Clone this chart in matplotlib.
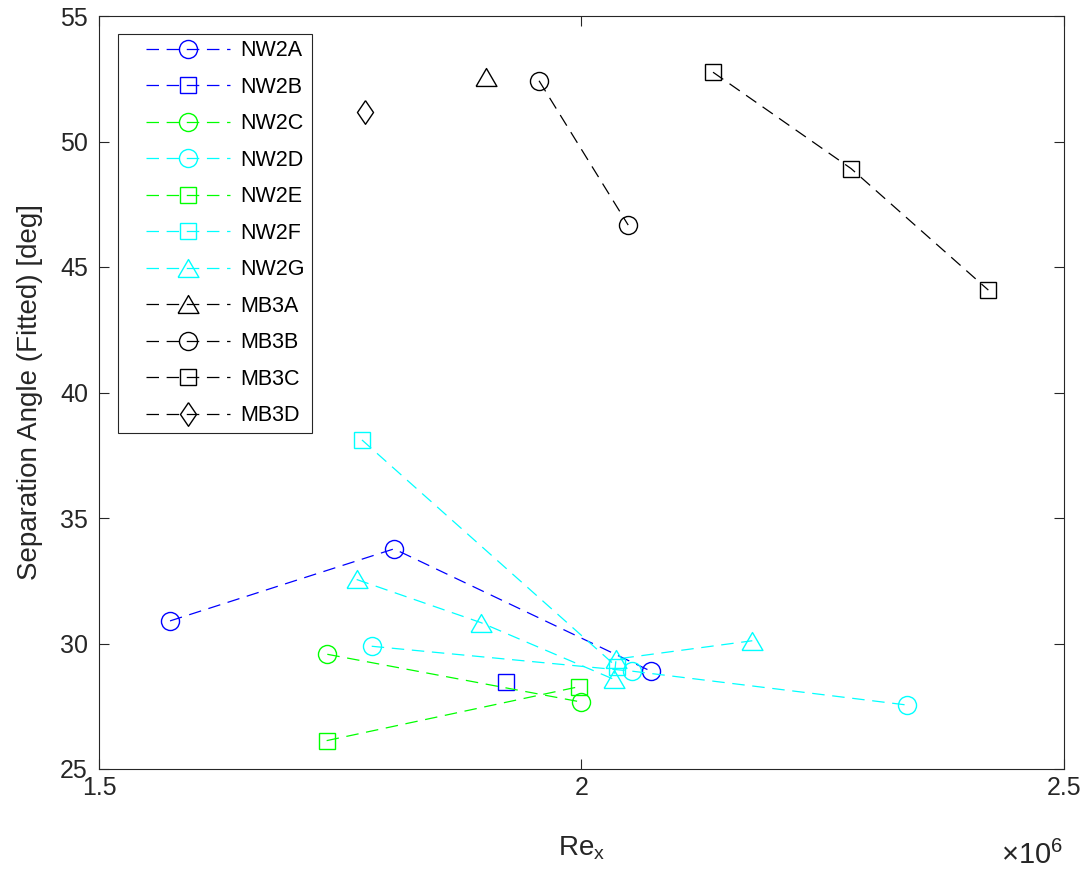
import matplotlib
matplotlib.use("Agg")
import matplotlib.pyplot as plt
from matplotlib.ticker import FixedLocator
from matplotlib.lines import Line2D
from matplotlib.legend_handler import HandlerLine2D

plt.rcParams['font.family'] = ['Liberation Sans', 'DejaVu Sans']
plt.rcParams['lines.scale_dashes'] = False

# ---- data (Re_x, separation angle in deg) ----
names = ["NW2A", "NW2B", "NW2C", "NW2D", "NW2E", "NW2F", "NW2G",
         "MB3A", "MB3B", "MB3C", "MB3D"]
NW2A_re = [1.5736e6, 1.8057e6, 2.0717e6]
NW2A_ang = [30.90, 33.77, 28.90]
NW2B_re = [1.9214e6]
NW2B_ang = [28.45]
NW2C_re = [1.7366e6, 1.9995e6]
NW2C_ang = [29.57, 27.67]
NW2D_re = [1.7826e6, 2.0520e6, 2.3370e6]
NW2D_ang = [29.89, 28.90, 27.55]
NW2E_re = [1.7359e6, 1.9974e6]
NW2E_ang = [26.13, 28.28]
NW2F_re = [1.7725e6, 2.0368e6]
NW2F_ang = [38.11, 29.06]
NW2G_re = [1.7670e6, 1.8959e6, 2.0337e6, 2.0358e6, 2.1770e6]
NW2G_ang = [32.55, 30.83, 28.57, 29.38, 30.11]
MB3A_re = [1.9007e6]
MB3A_ang = [52.55]
MB3B_re = [1.9560e6, 2.0484e6]
MB3B_ang = [52.42, 46.67]
MB3C_re = [2.1363e6, 2.2794e6, 2.4216e6]
MB3C_ang = [52.76, 48.92, 44.08]
MB3D_re = [1.7760e6]
MB3D_ang = [51.16]

xticks = [1.5e6, 2.0e6, 2.5e6]
xticklabels = ["1.5", "2", "2.5"]
yticks = [25, 30, 35, 40, 45, 50, 55]

BLUE = "#0000ff"
GREEN = "#00ff00"
CYAN = "#00ffff"
BLACK = "#000000"

tri = [(-1, -0.86), (1, -0.86), (0, 0.86), (-1, -0.86)]
dia = [(0, 1), (0.68, 0), (0, -1), (-0.68, 0), (0, 1)]

styles = {
    "NW2A": (BLUE, 'o', 13.0),
    "NW2B": (BLUE, 's', 11.0),
    "NW2C": (GREEN, 'o', 13.0),
    "NW2D": (CYAN, 'o', 13.0),
    "NW2E": (GREEN, 's', 11.0),
    "NW2F": (CYAN, 's', 11.0),
    "NW2G": (CYAN, tri, 15.0),
    "MB3A": (BLACK, tri, 15.0),
    "MB3B": (BLACK, 'o', 13.0),
    "MB3C": (BLACK, 's', 11.0),
    "MB3D": (BLACK, dia, 17.0),
}
series = {
    "NW2A": (NW2A_re, NW2A_ang), "NW2B": (NW2B_re, NW2B_ang),
    "NW2C": (NW2C_re, NW2C_ang), "NW2D": (NW2D_re, NW2D_ang),
    "NW2E": (NW2E_re, NW2E_ang), "NW2F": (NW2F_re, NW2F_ang),
    "NW2G": (NW2G_re, NW2G_ang), "MB3A": (MB3A_re, MB3A_ang),
    "MB3B": (MB3B_re, MB3B_ang), "MB3C": (MB3C_re, MB3C_ang),
    "MB3D": (MB3D_re, MB3D_ang),
}

fig = plt.figure(figsize=(10.88, 8.77), dpi=100)
ax = fig.add_axes([99/1088, 108/877, (1064-99)/1088, (769-16)/877])

for n in names:
    c, m, ms = styles[n]
    x, y = series[n]
    ax.plot(x, y, color=c, marker=m, markersize=ms, markerfacecolor='none',
            markeredgecolor=c, markeredgewidth=1.0, linewidth=0.9,
            linestyle=(0, (9.0, 5.5)), label=n)

ax.set_xlim(1.5e6, 2.5e6)
ax.set_ylim(25, 55)
ax.xaxis.set_major_locator(FixedLocator(xticks))
ax.set_xticklabels(xticklabels)
ax.set_yticks(yticks)

axcol = "#262626"
for s in ax.spines.values():
    s.set_color(axcol)
    s.set_linewidth(0.8)
ax.tick_params(direction='in', length=7, width=0.8, colors=axcol,
               labelsize=18, top=True, right=True)
ax.tick_params(axis='y', pad=8)
ax.tick_params(axis='x', pad=5)

ax.set_ylabel("Separation Angle (Fitted) [deg]", fontsize=20, color=axcol, labelpad=12)
ax.set_xlabel("Re$_\\mathregular{x}$", fontsize=20, color=axcol, labelpad=25)
fig.text(1063/1088, (877-855)/877, "×10$^\\mathregular{6}$", fontsize=21,
         color=axcol, ha='right', va='center')

leg = ax.legend(loc='upper left', bbox_to_anchor=((118-99)/965, (769-34)/753),
                fontsize=15.5, frameon=True, fancybox=False, framealpha=1,
                edgecolor=axcol, handlelength=4.9, handletextpad=0.5,
                labelspacing=0.72, borderpad=0.3, borderaxespad=0,
                handler_map={Line2D: HandlerLine2D(xpad=1.0)})
leg.get_frame().set_linewidth(0.8)

fig.savefig("out.png", dpi=100)
